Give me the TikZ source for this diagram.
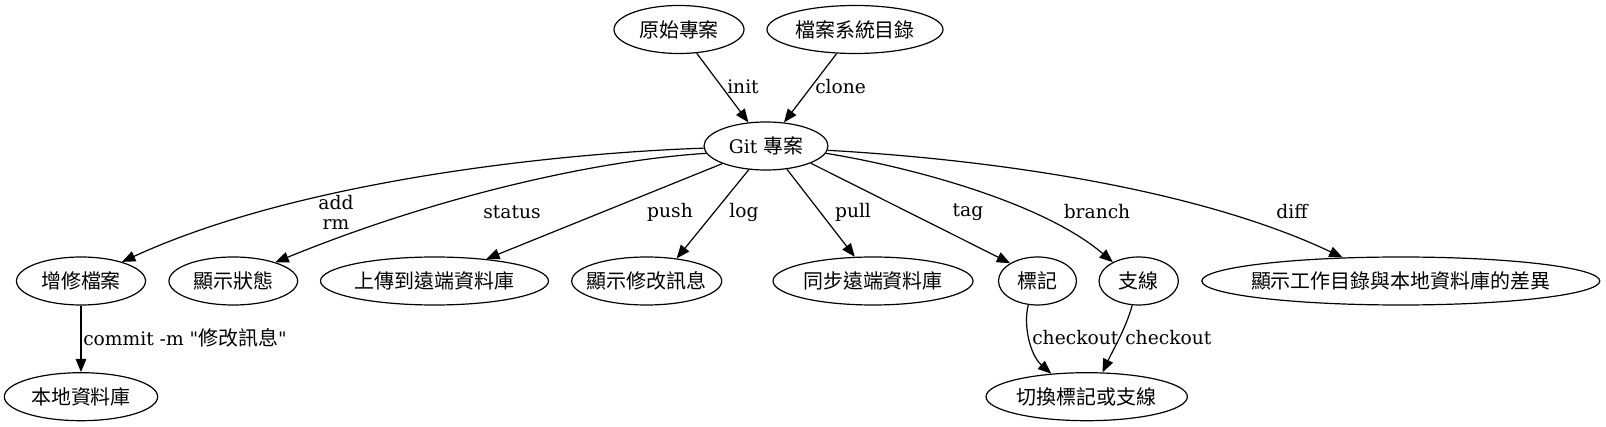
\documentclass[tikz,border=0pt]{standalone}
\usepackage{fontspec}
\setmainfont{DejaVu Serif}[Ligatures=TeXOff]
\newfontfamily\cjk{Noto Sans CJK TC}[Scale=1.07]
\usetikzlibrary{shapes.geometric,arrows.meta}
\begin{document}
\begin{tikzpicture}[x=0.75pt,y=-0.75pt,
  gnode/.style={draw,ellipse,line width=0.9pt,inner sep=0pt,minimum height=36pt,font=\fontsize{14pt}{17pt}\selectfont},
  elabel/.style={inner sep=0pt,font=\fontsize{14pt}{15pt}\selectfont},
  edge/.style={draw,line width=0.9pt,-{Triangle[length=10pt,width=8pt]}}]
\useasboundingbox (0,0) rectangle (1606,427);
% nodes
\node[gnode,minimum width=97.5pt] (orig) at (679,29.5) {\makebox[0pt]{\cjk 原始專案}};
\node[gnode,minimum width=132pt] (fs) at (855,29.5) {\makebox[0pt]{\cjk 檔案系統目錄}};
\node[gnode,minimum width=93pt] (git) at (766,146) {\makebox[0pt]{Git {\cjk 專案}}};
\node[gnode,minimum width=96.75pt] (addf) at (81,281) {\makebox[0pt]{\cjk 增修檔案}};
\node[gnode,minimum width=96.5pt] (stat) at (233.3,281) {\makebox[0pt]{\cjk 顯示狀態}};
\node[gnode,minimum width=171pt] (pushn) at (434.5,281) {\makebox[0pt]{\cjk 上傳到遠端資料庫}};
\node[gnode,minimum width=112.5pt] (logn) at (646.7,281) {\makebox[0pt]{\cjk 顯示修改訊息}};
\node[gnode,minimum width=150pt] (pulln) at (873,281) {\makebox[0pt]{\cjk 同步遠端資料庫}};
\node[gnode,minimum width=58.5pt] (tagn) at (1037.5,281) {\makebox[0pt]{\cjk 標記}};
\node[gnode,minimum width=59.5pt] (brn) at (1138.7,281) {\makebox[0pt]{\cjk 支線}};
\node[gnode,minimum width=298.5pt] (diffn) at (1400.8,281) {\makebox[0pt]{\cjk 顯示工作目錄與本地資料庫的差異}};
\node[gnode,minimum width=115pt] (local) at (81,396.7) {\makebox[0pt]{\cjk 本地資料庫}};
\node[gnode,minimum width=151pt] (sw) at (1086.7,396.7) {\makebox[0pt]{\cjk 切換標記或支線}};
% edges
\draw[edge] (orig) -- (git);
\draw[edge] (fs) -- (git);
\draw[edge] (git.182) .. controls (560,153) and (300,180) .. (addf.25);
\draw[edge] (git.187) .. controls (600,160) and (440,195) .. (stat.24);
\draw[edge] (git.202) -- (pushn.23);
\draw[edge] (git.234) -- (logn.37);
\draw[edge] (git.-48) -- (pulln.127);
\draw[edge] (git.-21.5) -- (tagn.147);
\draw[edge] (git.-7) .. controls (900,165) and (1040,200) .. (brn.144);
\draw[edge] (git.-4.4) .. controls (1000,160) and (1200,190) .. (diffn.158);
\draw[edge] (addf) -- (local);
\draw[edge] (tagn.-111) .. controls (1023,325) and (1030,355) .. (sw.147);
\draw[edge] (brn.-105) .. controls (1126,328) and (1113,350) .. (sw.57);
% labels
\node[elabel,anchor=west] (l-init) at (727,87) {init};
\node[elabel,anchor=west] (l-clone) at (815,87) {clone};
\node[elabel,align=center] (l-add) at (336,212) {add\\rm};
\node[elabel] (l-status) at (512,212) {status};
\node[elabel] (l-push) at (670,212) {push};
\node[elabel] (l-log) at (744,212) {log};
\node[elabel] (l-pull) at (853,212) {pull};
\node[elabel] (l-tag) at (968,212) {tag};
\node[elabel] (l-branch) at (1097,212) {branch};
\node[elabel] (l-diff) at (1292,212) {diff};
\node[elabel,anchor=west] (l-commit) at (83,338) {commit -m "{\cjk 修改訊息}"};
\node[elabel,anchor=west] (l-co1) at (1032,338) {checkout};
\node[elabel,anchor=west] (l-co2) at (1125,338) {checkout};
\end{tikzpicture}
\end{document}
